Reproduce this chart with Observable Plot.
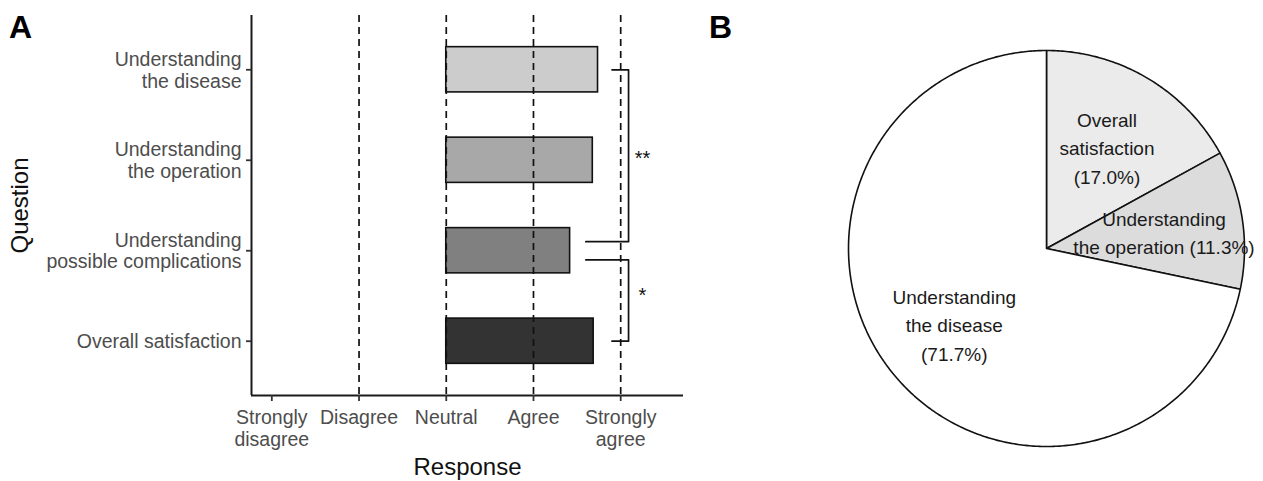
<!DOCTYPE html>
<html><head><meta charset="utf-8">
<script src="https://cdn.jsdelivr.net/npm/d3@7"></script>
<script src="https://cdn.jsdelivr.net/npm/@observablehq/plot@0.6"></script>
<style>
html,body{margin:0;padding:0;background:#fff;overflow:hidden;}
#wrap{position:relative;width:1263px;height:481px;font-family:"Liberation Sans",Arial,sans-serif;}
#a{position:absolute;left:0;top:0;}
#b{position:absolute;left:700px;top:0;}
</style></head><body><div id="wrap"><div id="a"></div><div id="b"></div></div>
<script>
// ---- Panel A data ----
const questions = ["Understanding the disease","Understanding the operation","Understanding possible complications","Overall satisfaction"];
const questionLabels = ["Understanding\nthe disease","Understanding\nthe operation","Understanding\npossible complications","Overall satisfaction"];
const meanResponse = [4.74, 4.68, 4.42, 4.69];
const barFills = ["#cccccc","#a8a8a8","#808080","#333333"];
const responseLevels = [1,2,3,4,5];
const responseLabels = ["Strongly\ndisagree","Disagree","Neutral","Agree","Strongly\nagree"];
const guideLevels = [2,3,4,5];
const barBase = 3;
// significance brackets (x in response units, y in question index units)
const sigLabels = ["**","*"];
const sigX = [[4.9,5.09,5.09,4.6],[4.6,5.09,5.09,4.9]];
const sigY = [[1,1,2.9,2.9],[3.1,3.1,4,4]];
const sigLabelX = [5.25, 5.25];
const sigLabelY = [1.98, 3.5];

// ---- Panel B data ----
const pieLabels = ["Overall\nsatisfaction\n(17.0%)","Understanding\nthe operation (11.3%)","Understanding\nthe disease\n(71.7%)"];
const pieShares = [17.0, 11.3, 71.7];
const pieFills = ["#ebebeb","#dcdcdc","#ffffff"];

const FONT = "Liberation Sans, Arial, sans-serif";
const xDomain = [0.767, 5.72];
const yDomain = [0.4, 4.6];

const bars = questions.map((q, i) => ({q, i: i + 1, v: meanResponse[i], fill: barFills[i]}));
const brackets = sigX.flatMap((xs, k) => xs.map((x, j) => ({k, x, y: sigY[k][j]})));
const sigText = sigLabels.map((t, k) => ({t, x: sigLabelX[k], y: sigLabelY[k]}));

const plotA = Plot.plot({
  width: 700, height: 481,
  marginLeft: 251, marginRight: 17, marginTop: 15, marginBottom: 86,
  style: {fontFamily: FONT, background: "transparent", overflow: "visible"},
  x: {domain: xDomain, range: [251, 683], axis: null},
  y: {domain: yDomain, range: [15, 395], axis: null},
  color: {type: "identity"},
  marks: [
    Plot.rect(bars, {x1: () => barBase, x2: "v", y1: d => d.i - 0.25, y2: d => d.i + 0.25, fill: "fill", stroke: "#111", strokeWidth: 1.6}),
    Plot.ruleX(guideLevels, {stroke: "#111", strokeWidth: 1.7, strokeDasharray: "7,5"}),
    Plot.line(brackets, {x: "x", y: "y", z: "k", stroke: "#111", strokeWidth: 1.7}),
    Plot.text(sigText, {x: "x", y: "y", text: "t", fontSize: 20, fill: "#111"}),
    Plot.ruleX([xDomain[0]], {stroke: "#1a1a1a", strokeWidth: 2}),
    Plot.ruleY([yDomain[1]], {stroke: "#1a1a1a", strokeWidth: 2}),
    Plot.axisX(responseLevels, {anchor: "bottom", tickFormat: d => responseLabels[responseLevels.indexOf(d)], tickSize: 6, tickPadding: 7, fontSize: 19.5, lineHeight: 1.11, stroke: "#333", strokeWidth: 1.8, fill: "#4d4d4d", label: null}),
    Plot.axisY([1,2,3,4], {anchor: "left", tickFormat: d => questionLabels[d - 1], tickSize: 5, tickPadding: 5, fontSize: 19.5, lineHeight: 1.11, stroke: "#333", strokeWidth: 1.8, fill: "#4d4d4d", label: null}),
    Plot.text(["Response"], {frameAnchor: "bottom", dy: 72, textAnchor: "middle", lineAnchor: "middle", fontSize: 24, fill: "#111"}),
    Plot.text(["Question"], {frameAnchor: "left", dx: -231, rotate: -90, textAnchor: "middle", lineAnchor: "middle", fontSize: 24, fill: "#111"}),
    Plot.text(["A"], {frameAnchor: "top-left", dx: -231, dy: 12.5, textAnchor: "middle", lineAnchor: "middle", fontSize: 32, fontWeight: "bold", fill: "#000"})
  ]
});
document.getElementById("a").appendChild(plotA);

// ---- Pie ----
const arcs = d3.pie().sort(null).value(d => d)(pieShares);
const piePts = [];
arcs.forEach((a, k) => {
  piePts.push({k, x: 0, y: 0, fill: pieFills[k]});
  const n = Math.max(2, Math.ceil((a.endAngle - a.startAngle) / 0.01));
  for (let j = 0; j <= n; j++) {
    const t = a.startAngle + (a.endAngle - a.startAngle) * j / n;
    piePts.push({k, x: Math.sin(t), y: Math.cos(t), fill: pieFills[k]});
  }
  piePts.push({k, x: 0, y: 0, fill: pieFills[k]});
});
const labelR = 0.6;
const pieText = arcs.map((a, k) => {
  const m = (a.startAngle + a.endAngle) / 2;
  return {t: pieLabels[k], x: labelR * Math.sin(m), y: labelR * Math.cos(m)};
});

const plotB = Plot.plot({
  width: 563, height: 481,
  marginLeft: 0, marginRight: 0, marginTop: 0, marginBottom: 0,
  style: {fontFamily: FONT, background: "transparent", overflow: "visible"},
  x: {domain: [-1, 1], range: [148, 544], axis: null},
  y: {domain: [-1, 1], range: [446, 50], axis: null},
  color: {type: "identity"},
  marks: [
    Plot.line(piePts, {x: "x", y: "y", z: "k", fill: "fill", stroke: "#111", strokeWidth: 1.6, strokeLinejoin: "round"}),
    Plot.text(pieText, {x: "x", y: "y", text: "t", fontSize: 19, lineHeight: 1.49, fill: "#1a1a1a"}),
    Plot.text(["B"], {frameAnchor: "top-left", dx: 20, dy: 27.5, textAnchor: "middle", lineAnchor: "middle", fontSize: 32, fontWeight: "bold", fill: "#000"})
  ]
});
document.getElementById("b").appendChild(plotB);
</script>
</body></html>
